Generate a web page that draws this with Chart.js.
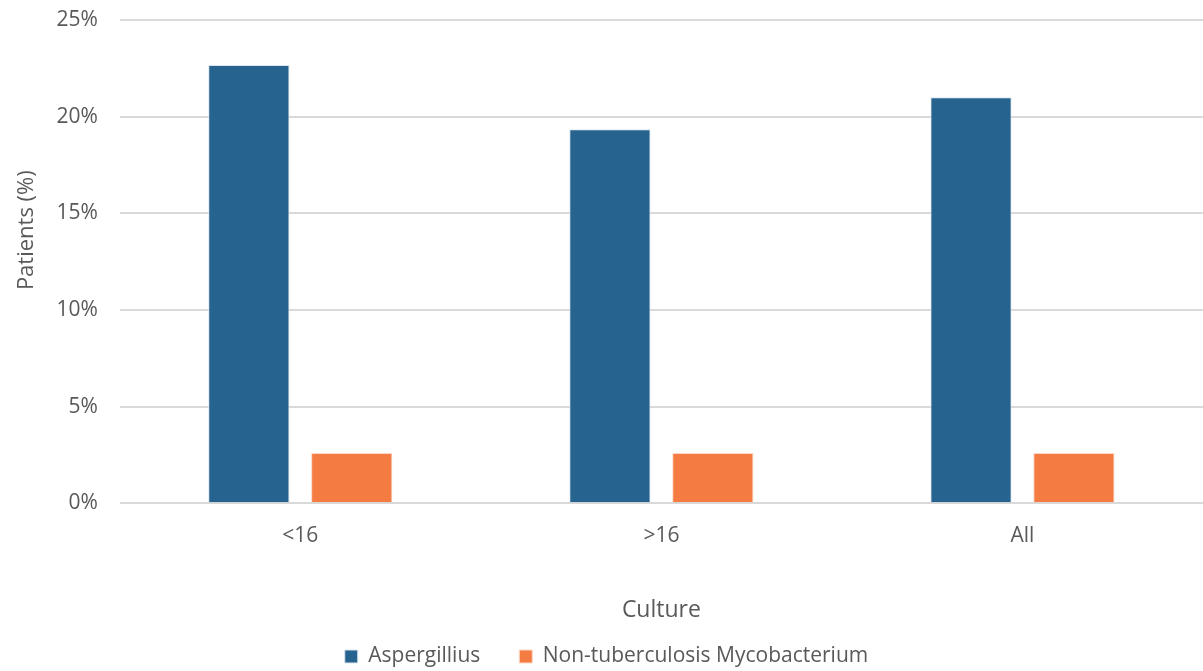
<!DOCTYPE html>
<html>
<head>
<meta charset="utf-8">
<script src="https://cdn.jsdelivr.net/npm/chart.js@4"></script>
<style>
  html, body { margin: 0; padding: 0; background: #fff; }
  #wrap { width: 1203px; height: 671px; position: relative; }
</style>
</head>
<body>
<div id="wrap"><canvas id="c" width="1203" height="671"></canvas></div>
<script>
const categories = ['<16', '>16', 'All'];
const aspergillius = [22.67, 19.35, 21.0];
const ntm = [2.6, 2.6, 2.6];
const yTicks = [0, 5, 10, 15, 20, 25];
const seriesNames = ['Aspergillius', 'Non-tuberculosis Mycobacterium'];

const textColor = '#595959';
const fontFamily = '"Open Sans", "Noto Sans", sans-serif';

new Chart(document.getElementById('c'), {
  type: 'bar',
  data: {
    labels: categories,
    datasets: [
      { label: seriesNames[0], data: aspergillius, backgroundColor: '#27638F', borderColor: '#DCE6EE', borderWidth: 1 },
      { label: seriesNames[1], data: ntm, backgroundColor: '#F47C42', borderColor: '#FBD8C6', borderWidth: 1 }
    ]
  },
  options: {
    responsive: false,
    animation: false,
    layout: { padding: { top: 0, right: 0, left: 10, bottom: -6 } },
    datasets: { bar: { categoryPercentage: 0.57, barPercentage: 0.79 } },
    plugins: {
      legend: {
        position: 'bottom',
        labels: {
          color: textColor,
          font: { family: fontFamily, size: 21 },
          boxWidth: 13, boxHeight: 13,
          padding: 39
        }
      },
      tooltip: { enabled: false }
    },
    scales: {
      x: {
        grid: { display: false, drawTicks: false },
        border: { display: false },
        ticks: { color: textColor, font: { family: fontFamily, size: 21 }, padding: 20 },
        title: { display: true, text: 'Culture', color: textColor, font: { family: fontFamily, size: 23 }, padding: { top: 28, bottom: -17 } }
      },
      y: {
        min: 0, max: 25,
        afterBuildTicks: (axis) => { axis.ticks = yTicks.map(v => ({ value: v })); },
        afterFit: (scale) => { scale.paddingTop = 20; },
        grid: { color: '#D9D9D9', lineWidth: 2, drawTicks: false },
        border: { display: false },
        ticks: { color: textColor, font: { family: fontFamily, size: 21 }, padding: 22, callback: v => v + '%' },
        title: { display: true, text: '           Patients (%)', color: textColor, font: { family: fontFamily, size: 22 }, padding: { top: 4, bottom: -6 } }
      }
    }
  }
});
</script>
</body>
</html>
